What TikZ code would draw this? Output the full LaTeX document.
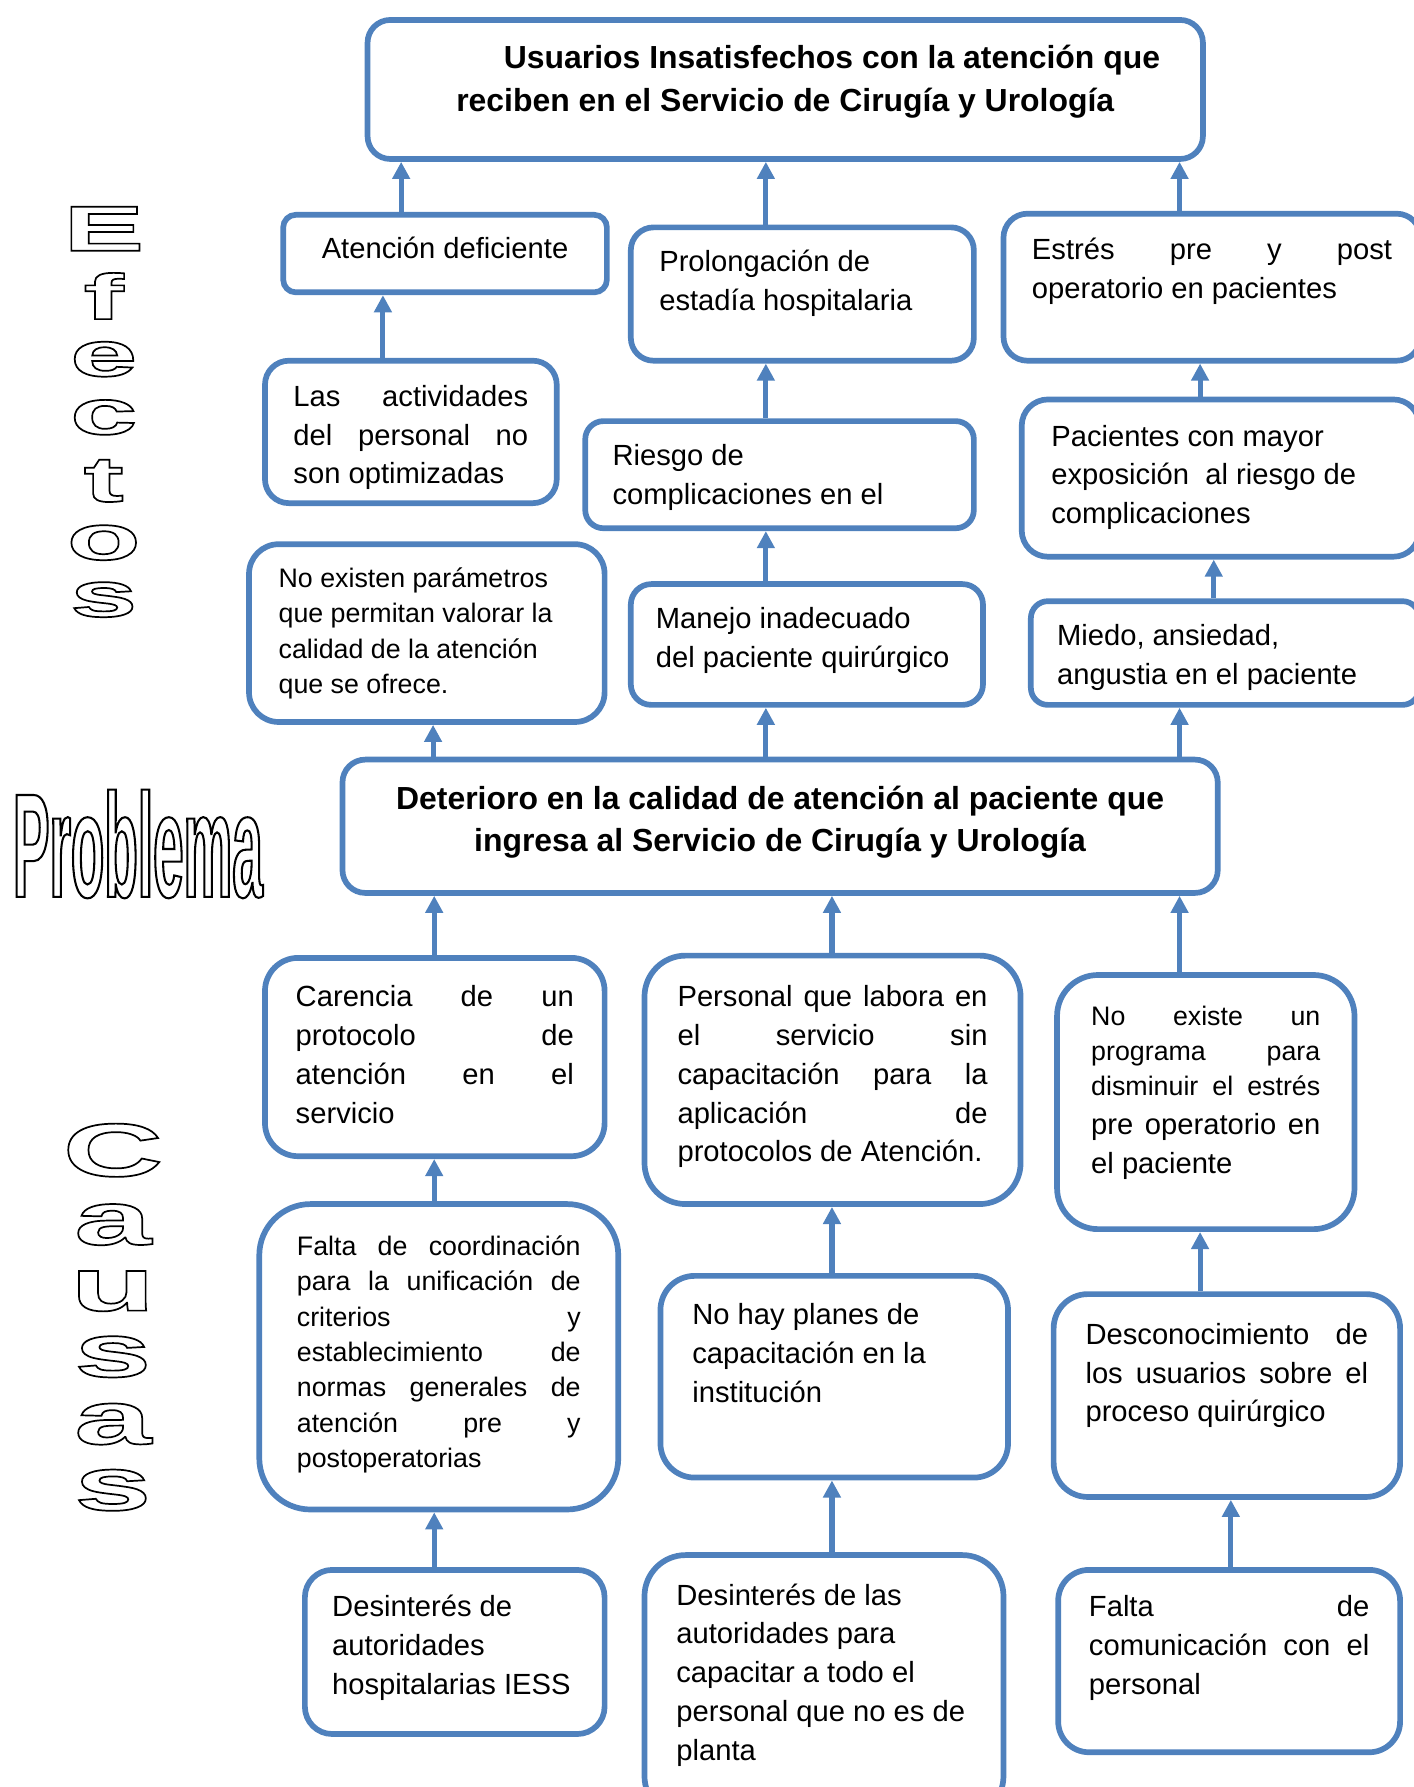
\documentclass[tikz,border=0pt]{standalone}
\usepackage{fontspec}
\setmainfont{Liberation Sans}
\newfontfamily\widefont[FakeStretch=1.9]{Liberation Sans}
\newfontfamily\causafont[FakeStretch=1.85]{Liberation Sans}
\newfontfamily\narrowfont[FakeStretch=0.37]{Liberation Sans}
\usetikzlibrary{arrows.meta}
\definecolor{CardBlue}{RGB}{79,129,189}
\newcommand{\fnorm}{\fontsize{25.6}{34}\selectfont}
\newcommand{\fsmall}{\fontsize{23.5}{31}\selectfont}
\newcommand{\ftitle}{\fontsize{28}{37}\selectfont\bfseries}
\newcommand{\jline}[1]{{\spaceskip=0pt\xspaceskip=0pt\makebox[\hsize][s]{#1}}}
\newcommand{\outl}[2][1.5]{\special{pdf:literal direct 1 Tr #1 w}#2\special{pdf:literal direct 0 Tr}}

\begin{document}
\begin{tikzpicture}[x=1pt, y=-1pt,
  card/.style={draw=CardBlue, line width=5pt, rounded corners=20pt, fill=white, anchor=north west, inner ysep=0pt, align=left, font=\fnorm,
    execute at begin node={\spaceskip=\fontdimen2\font\xspaceskip=\fontdimen2\font}},
  head/.style={card, align=center, font=\ftitle},
  hollow/.style={anchor=base, inner sep=0pt, text height=0.72em, text depth=0pt, font=\fontsize{56}{56}\selectfont\widefont\bfseries},
  ar/.style={-{Triangle[width=15pt, length=15pt]}, CardBlue, line width=4.5pt}]
\useasboundingbox (0,0) rectangle (1240,1568);
% efectos
\node[head, text width=693pt, inner xsep=20pt, text height=43pt, text depth=79pt] (t) at (320,15) {\hspace*{82pt}Usuarios Insatisfechos con la atención que\\reciben en el Servicio de Cirugía y Urología};
\node[card, align=center, rounded corners=11pt, text width=244pt, inner xsep=20pt, text height=38pt, text depth=30pt] (e1) at (246,186) {Atención deficiente};
\node[card, text width=251pt, inner xsep=25pt, text height=39pt, text depth=78pt] (e2) at (551,197) {Prolongación de\\estadía hospitalaria};
\node[card, rounded corners=21pt, text width=316pt, inner xsep=25pt, text height=40pt, text depth=89pt] (e3) at (878,185) {\jline{Estrés pre y post}\\operatorio en pacientes};
\node[card, rounded corners=21pt, text width=206pt, inner xsep=25pt, text height=40pt, text depth=85pt] (e4) at (230,314) {\jline{Las actividades}\\\jline{del personal no}\\son optimizadas};
\node[card, rounded corners=16pt, text width=293pt, inner xsep=24pt, text height=39pt, text depth=55pt] (e5) at (511,367) {Riesgo de\\complicaciones en el};
\node[card, rounded corners=23pt, text width=297pt, inner xsep=26pt, text height=41pt, text depth=97pt] (e6) at (894,348) {Pacientes con mayor\\exposición\ \ al riesgo de\\complicaciones};
\node[card, rounded corners=26pt, font=\fsmall, text width=260pt, inner xsep=26pt, text height=38pt, text depth=118pt] (e7) at (216,475) {No existen parámetros\\que permitan valorar la\\calidad de la atención\\que se ofrece.};
\node[card, rounded corners=18pt, text width=265pt, inner xsep=22pt, text height=39pt, text depth=67pt] (e8) at (551,510) {Manejo inadecuado\\del paciente quirúrgico};
\node[card, rounded corners=15pt, text width=295pt, inner xsep=23pt, text height=39pt, text depth=52pt] (e9) at (902,525) {Miedo, ansiedad,\\angustia en el paciente};
% problema
\node[head, text width=728pt, inner xsep=20pt, text height=44pt, text depth=73pt] (p) at (298,664) {Deterioro en la calidad de atención al paciente que\\ingresa al Servicio de Cirugía y Urología};
% causas
\node[card, rounded corners=29pt, text width=244pt, inner xsep=27pt, text height=43pt, text depth=131pt] (c1) at (230,838) {\jline{Carencia de un}\\\jline{protocolo de}\\\jline{atención en el}\\servicio};
\node[card, rounded corners=36pt, text width=272pt, inner xsep=29pt, text height=45pt, text depth=173pt] (c2) at (563,836) {\jline{Personal que labora en}\\\jline{el servicio sin}\\\jline{capacitación para la}\\\jline{aplicación de}\\protocolos de Atención.};
\node[card, rounded corners=36pt, text width=201pt, inner xsep=30pt, text height=44pt, text depth=179pt] (c3) at (925,853) {{\fsmall\jline{No existe un}\\\jline{programa para}\\\jline{disminuir el estrés}\par}\jline{pre operatorio en}\\el paciente};
\node[card, rounded corners=45pt, font=\fsmall, text width=249pt, inner xsep=33pt, text height=45pt, text depth=223pt] (c4) at (225,1054) {\jline{Falta de coordinación}\\\jline{para la unificación de}\\\jline{criterios y}\\\jline{establecimiento de}\\\jline{normas generales de}\\\jline{atención pre y}\\postoperatorias};
\node[card, rounded corners=30pt, text width=249pt, inner xsep=28pt, text height=43pt, text depth=134pt] (c5) at (577,1117) {No hay planes de\\capacitación en la\\institución};
\node[card, rounded corners=30pt, text width=248pt, inner xsep=28pt, text height=44pt, text depth=134pt] (c6) at (922,1133) {\jline{Desconocimiento de}\\\jline{los usuarios sobre el}\\proceso quirúrgico};
\node[card, rounded corners=24pt, text width=215pt, inner xsep=24pt, text height=41pt, text depth=103pt] (c7) at (265,1375) {Desinterés de\\autoridades\\hospitalarias IESS};
\node[card, rounded corners=36pt, text width=259pt, inner xsep=28pt, text height=44pt, text depth=186pt] (c8) at (563,1362) {Desinterés de las\\autoridades para\\capacitar a todo el\\personal que no es de\\planta};
\node[card, rounded corners=27pt, text width=246pt, inner xsep=27pt, text height=41pt, text depth=119pt] (c9) at (926,1375) {\jline{Falta de}\\\jline{comunicación con el}\\personal};
% side words
\foreach \ch/\yb [count=\i] in {E/220, f/280, e/330, c/381, t/440, o/491, s/541}
  \node[hollow] (ef\i) at (91,\yb) {\outl{\ch}};
\node[hollow, font=\fontsize{130}{130}\selectfont\narrowfont\bfseries] (prob) at (121,787) {\outl[1.8]{Problema}};
\foreach \ch/\yb [count=\i] in {C/1032, a/1092, u/1150, s/1208, a/1267, s/1325}
  \node[hollow, font=\fontsize{66}{66}\selectfont\causafont\bfseries] (ca\i) at (99,\yb) {\outl{\ch}};
% flechas
\draw[ar] (352,0 |- e1.north) -- (352,0 |- t.south);
\draw[ar] (672,0 |- e2.north) -- (672,0 |- t.south);
\draw[ar] (1035,0 |- e3.north) -- (1035,0 |- t.south);
\draw[ar] (336,0 |- e4.north) -- (336,0 |- e1.south);
\draw[ar] (672,0 |- e5.north) -- (672,0 |- e2.south);
\draw[ar] (1053,0 |- e6.north) -- (1053,0 |- e3.south);
\draw[ar] (672,0 |- e8.north) -- (672,0 |- e5.south);
\draw[ar] (1065,0 |- e9.north) -- (1065,0 |- e6.south);
\draw[ar] (380,0 |- p.north) -- (380,0 |- e7.south);
\draw[ar] (672,0 |- p.north) -- (672,0 |- e8.south);
\draw[ar] (1035,0 |- p.north) -- (1035,0 |- e9.south);
\draw[ar] (381,0 |- c1.north) -- (381,0 |- p.south);
\draw[ar] (730,0 |- c2.north) -- (730,0 |- p.south);
\draw[ar] (1035,0 |- c3.north) -- (1035,0 |- p.south);
\draw[ar] (381,0 |- c4.north) -- (381,0 |- c1.south);
\draw[ar] (730,0 |- c5.north) -- (730,0 |- c2.south);
\draw[ar] (1053,0 |- c6.north) -- (1053,0 |- c3.south);
\draw[ar] (381,0 |- c7.north) -- (381,0 |- c4.south);
\draw[ar] (730,0 |- c8.north) -- (730,0 |- c5.south);
\draw[ar] (1080,0 |- c9.north) -- (1080,0 |- c6.south);
\end{tikzpicture}
\end{document}
